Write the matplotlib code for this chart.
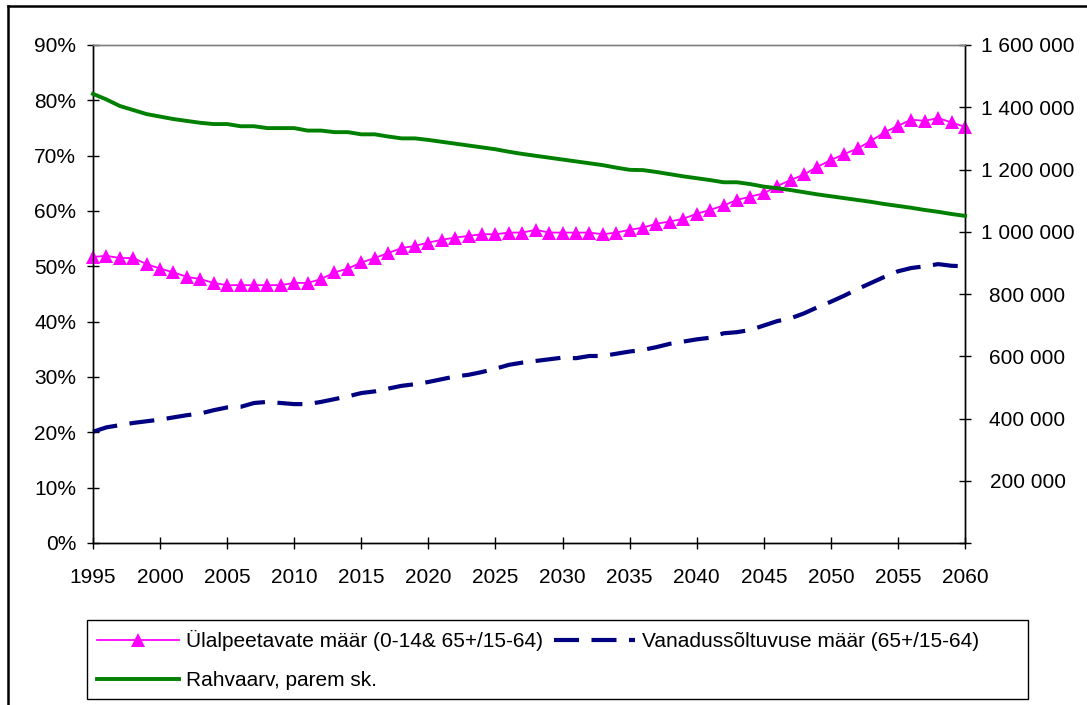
import matplotlib
matplotlib.use("Agg")
import matplotlib.pyplot as plt
from matplotlib.lines import Line2D
from matplotlib.patches import Rectangle
from matplotlib.ticker import FuncFormatter

plt.rcParams['font.family'] = ['Liberation Sans', 'DejaVu Sans']

years = list(range(1995, 2061))

# Ülalpeetavate määr (0-14 & 65+ / 15-64), %
dependency = [51.7, 51.9, 51.5, 51.5, 50.4, 49.6, 48.9, 48.1, 47.7, 47.0,
              46.6, 46.6, 46.6, 46.6, 46.6, 47.0, 47.0, 47.7, 48.9, 49.6,
              50.7, 51.5, 52.4, 53.3, 53.7, 54.3, 54.8, 55.2, 55.5, 55.8,
              55.8, 56.1, 56.1, 56.6, 56.1, 56.1, 56.1, 56.1, 55.8, 56.1,
              56.6, 57.0, 57.7, 58.1, 58.6, 59.5, 60.2, 61.0, 62.0, 62.6,
              63.2, 64.5, 65.6, 66.6, 68.0, 69.2, 70.3, 71.3, 72.7, 74.2,
              75.4, 76.5, 76.3, 76.8, 76.0, 75.2]

# Vanadussõltuvuse määr (65+ / 15-64), %
old_age = [20.1, 20.9, 21.3, 21.7, 22.0, 22.3, 22.7, 23.1, 23.4, 24.0,
           24.5, 24.6, 25.3, 25.5, 25.3, 25.1, 25.1, 25.5, 26.0, 26.5,
           27.1, 27.4, 27.9, 28.4, 28.7, 29.1, 29.6, 30.1, 30.4, 30.9,
           31.5, 32.2, 32.6, 32.9, 33.2, 33.5, 33.4, 33.8, 33.8, 34.2,
           34.6, 34.9, 35.4, 36.0, 36.4, 36.8, 37.1, 37.9, 38.1, 38.5,
           39.3, 40.1, 40.6, 41.5, 42.6, 43.6, 44.7, 45.9, 47.0, 48.1,
           49.1, 49.7, 50.0, 50.4, 50.1, 50.0]

# Rahvaarv (population), thousands
population_k = [1443, 1425, 1404, 1391, 1378, 1370, 1362, 1356, 1350, 1346,
                1346, 1339, 1339, 1333, 1333, 1333, 1325, 1325, 1320, 1320,
                1313, 1313, 1306, 1300, 1300, 1295, 1289, 1283, 1277, 1271,
                1265, 1257, 1250, 1244, 1238, 1232, 1226, 1220, 1214, 1206,
                1199, 1198, 1192, 1185, 1178, 1172, 1166, 1159, 1159, 1153,
                1145, 1140, 1134, 1127, 1120, 1114, 1108, 1102, 1096, 1089,
                1083, 1077, 1070, 1064, 1057, 1051]

label_dep = "Ülalpeetavate määr (0-14& 65+/15-64)"
label_old = "Vanadussõltuvuse määr (65+/15-64)"
label_pop = "Rahvaarv, parem sk."

W, H = 1087, 705
fig = plt.figure(figsize=(W / 100, H / 100), dpi=100)

ax = fig.add_axes([93 / W, (H - 543) / H, 872 / W, 498 / H])
ax2 = ax.twinx()

dep_vals = [v / 100 for v in dependency]
old_vals = [v / 100 for v in old_age]
pop_vals = [v * 1000 for v in population_k]

l_dep, = ax.plot(years, dep_vals, color='#FF00FF', lw=1.3, marker='^',
                 ms=9.5, markeredgewidth=0, clip_on=False, zorder=3)
l_old, = ax.plot(years, old_vals, color='#000080', lw=3.0,
                 dashes=(6, 3), solid_capstyle='butt', dash_capstyle='butt',
                 clip_on=False, zorder=2)
l_pop, = ax2.plot(years, pop_vals, color='#008000', lw=2.8, clip_on=False,
                  zorder=3)

ax.set_xlim(1995, 2060)
ax.set_ylim(0, 0.9)
ax2.set_ylim(0, 1600000)

ax.set_xticks(list(range(1995, 2061, 5)))
ax.set_yticks([i / 10 for i in range(10)])
ax.yaxis.set_major_formatter(FuncFormatter(lambda v, p: f"{round(v * 100)}%"))
ax2.set_yticks(list(range(0, 1600001, 200000)))


def fmt_right(v, p):
    if v == 0:
        return ""
    return f"{int(v):,}".replace(",", " ")


ax2.yaxis.set_major_formatter(FuncFormatter(fmt_right))

fs = 15
ax.tick_params(axis='y', direction='inout', length=8, width=1, pad=8,
               labelsize=fs, colors='black')
ax.tick_params(axis='x', direction='inout', length=8, width=1, pad=14,
               labelsize=fs, colors='black')
ax2.tick_params(axis='y', direction='inout', length=8, width=1, pad=41,
                labelsize=fs, colors='black')
for t in ax2.get_yticklabels():
    t.set_horizontalalignment('center')

for a in (ax, ax2):
    a.spines['top'].set_color('#808080')
    a.spines['top'].set_linewidth(1)
    a.spines['left'].set_color('black')
    a.spines['right'].set_color('black')
    a.spines['bottom'].set_color('black')
    a.spines['left'].set_linewidth(1)
    a.spines['right'].set_linewidth(1)
    a.spines['bottom'].set_linewidth(1)
ax.patch.set_visible(False)

# outer chart border (left and top visible)
fig.add_artist(Line2D([8 / W, 8 / W], [0, 1 - 6 / H], transform=fig.transFigure,
                      color='black', lw=1.8))
fig.add_artist(Line2D([8 / W, 1], [1 - 6 / H, 1 - 6 / H], transform=fig.transFigure,
                      color='black', lw=1.8))

# legend frame
fig.add_artist(Rectangle((87 / W, (H - 699) / H), (1028 - 87) / W, (699 - 620) / H,
                         transform=fig.transFigure, fill=False,
                         edgecolor='black', lw=1.0))

leg = fig.legend([l_dep, l_pop, l_old], [label_dep, label_pop, label_old],
                 ncol=2, frameon=False, loc='upper left',
                 bbox_to_anchor=(87 / W, 1 - 620 / H),
                 fontsize=fs, handlelength=3.9, handletextpad=0.33,
                 columnspacing=0.55, labelspacing=0.95, borderpad=0.5,
                 borderaxespad=0, markerscale=1.0)

fig.savefig("out.png", dpi=100, facecolor='white')
